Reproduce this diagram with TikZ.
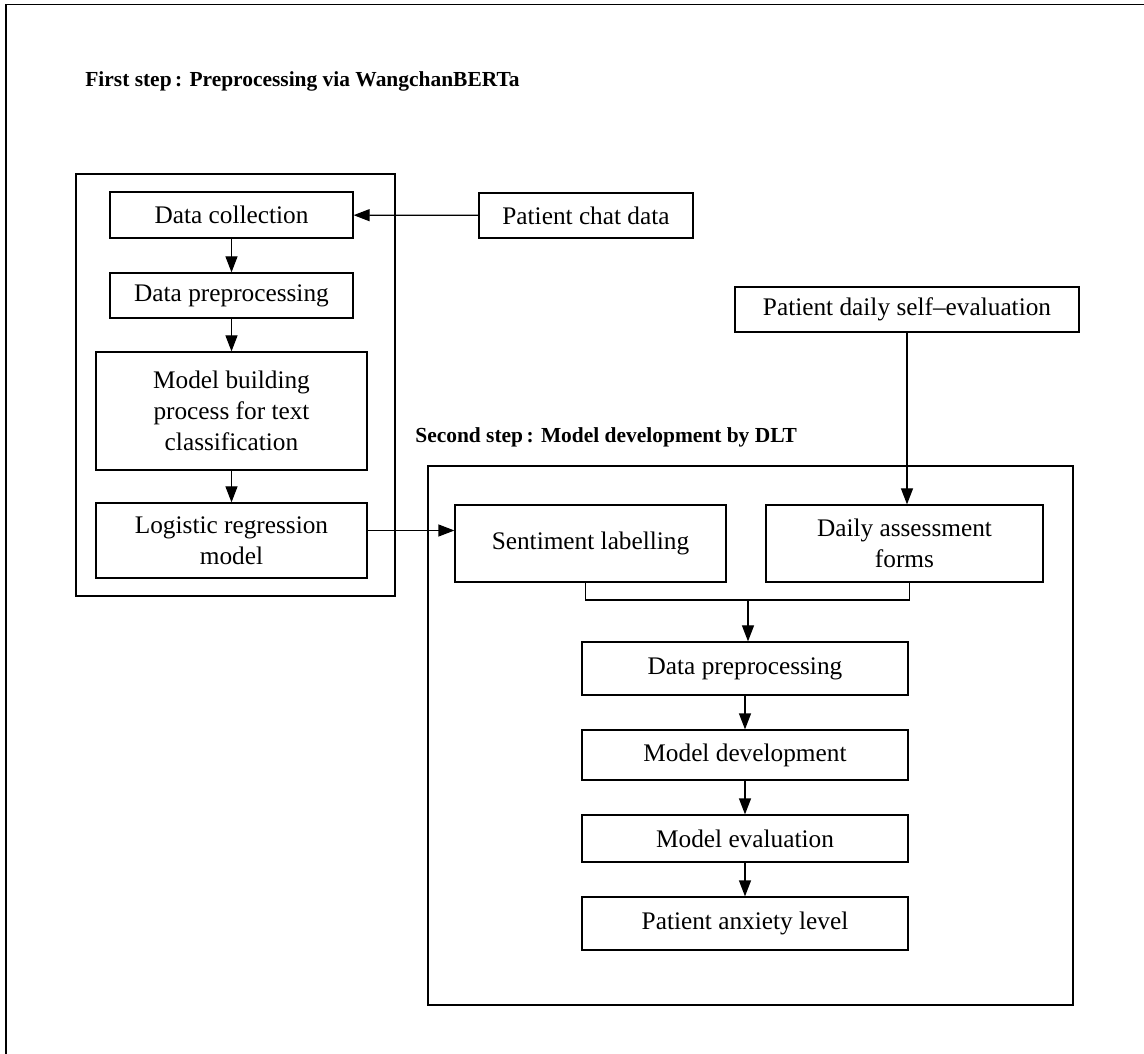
\documentclass[tikz,border=0pt]{standalone}
\usepackage{fontspec}
\setmainfont{Liberation Serif}
\usetikzlibrary{arrows.meta}
\tikzset{
  stage/.style = {draw, line width = 0.7pt, align = center, inner sep = 0pt,
    font = \fontsize{14.4}{17.5}\selectfont},
  flow/.style = {line width = 0.7pt, -{Triangle[length = 3.2mm, width = 2.4mm]}},
  steptitle/.style = {anchor = west, inner sep = 0pt,
    font = \fontsize{12.2}{15}\selectfont\bfseries}
}
\begin{document}
\begin{tikzpicture}
      \useasboundingbox (0.0, 0.0) rectangle (22.88, -21.08);
      \draw [line width = 1.0pt] (0.12, -21.08) -- (0.12, -0.09) -- (22.88, -0.09);
      % first step
      \node (title1) [steptitle] at (1.70, -1.62) {First step\,: Preprocessing via WangchanBERTa};
      \draw [line width = 0.7pt] (1.52, -3.48) rectangle (7.90, -11.92);
      \node (dcol) [stage, minimum width = 4.86cm, minimum height = 0.92cm] at (4.63, -4.30) {Data collection};
      \node (dpre1) [stage, minimum width = 4.86cm, minimum height = 0.90cm] at (4.63, -5.91) {Data preprocessing};
      \node (mbuild) [stage, minimum width = 5.42cm, minimum height = 2.36cm] at (4.63, -8.22)
        {Model building\\process for text\\classification};
      \node (logreg) [stage, minimum width = 5.42cm, minimum height = 1.50cm] at (4.63, -10.81)
        {Logistic regression\\model};
      \node (chat) [stage, minimum width = 4.28cm, minimum height = 0.90cm] at (11.72, -4.31) {Patient chat data};
      \draw [flow] (chat) -- (dcol);
      \draw [flow] (dcol) -- (dpre1);
      \draw [flow] (dpre1) -- (mbuild);
      \draw [flow] (mbuild) -- (logreg);
      % second step
      \node (selfev) [stage, minimum width = 6.88cm, minimum height = 0.90cm] at (18.14, -6.19)
        {Patient daily self--evaluation};
      \node (title2) [steptitle] at (8.30, -8.74) {Second step\,: Model development by DLT};
      \draw [line width = 0.7pt] (8.56, -9.32) rectangle (21.46, -20.10);
      \node (sent) [stage, minimum width = 5.42cm, minimum height = 1.54cm] at (11.81, -10.87) {Sentiment labelling};
      \node (daily) [stage, minimum width = 5.54cm, minimum height = 1.54cm] at (18.09, -10.87)
        {Daily assessment\\forms};
      \node (dpre2) [stage, minimum width = 6.52cm, minimum height = 1.06cm] at (14.90, -13.37) {Data preprocessing};
      \node (mdev) [stage, minimum width = 6.52cm, minimum height = 1.00cm] at (14.90, -15.10) {Model development};
      \node (meval) [stage, minimum width = 6.52cm, minimum height = 0.94cm] at (14.90, -16.77) {Model evaluation};
      \node (anx) [stage, minimum width = 6.52cm, minimum height = 1.06cm] at (14.90, -18.47) {Patient anxiety level};
      \draw [flow] ([yshift = 0.2cm] logreg.east) -- ([yshift = 0.2cm] logreg.east -| sent.west);
      \draw [flow] (selfev.south) -- (selfev.south |- daily.north);
      \coordinate (merge) at (14.96, -12.00);
      \draw [line width = 0.7pt] ([xshift = -0.1cm] sent.south) |- (merge) -| ([xshift = 0.1cm] daily.south);
      \draw [flow] (merge) -- (merge |- dpre2.north);
      \draw [flow] (dpre2) -- (mdev);
      \draw [flow] (mdev) -- (meval);
      \draw [flow] (meval) -- (anx);
    \end{tikzpicture}
\end{document}
